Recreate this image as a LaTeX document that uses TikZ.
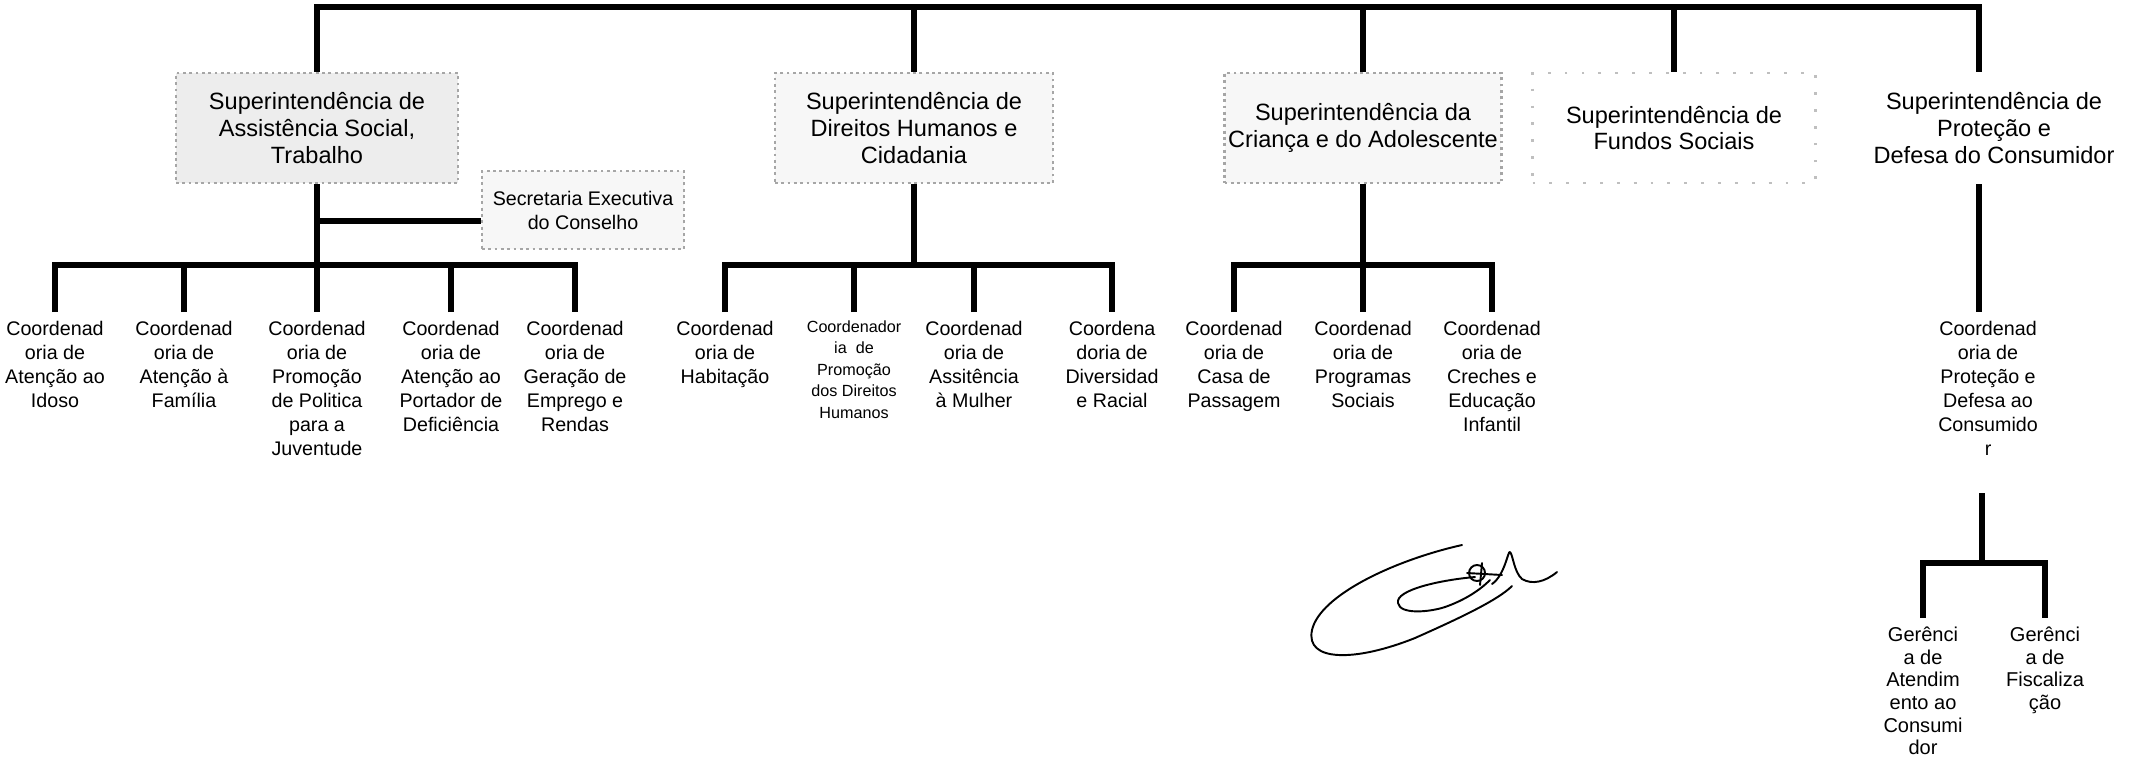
\documentclass[tikz,border=0pt]{standalone}
\usepackage{fontspec}
\setmainfont{Liberation Sans}
\usetikzlibrary{positioning}
\newcommand{\supfont}{\fontsize{6.7}{7.6}\selectfont}
\newcommand{\coordfont}{\fontsize{5.6}{6.85}\selectfont}
\newcommand{\tinyfont}{\fontsize{4.6}{6.1}\selectfont}
\newcommand{\gerfont}{\fontsize{5.7}{6.45}\selectfont}

\begin{document}
\begin{tikzpicture}[
    line cap=butt,
    line join=miter,
    bar/.style={line width=1.9pt},
    supbox/.style={draw=gray!70, densely dotted, line width=0.8pt, align=center,
        font=\supfont, minimum height=1.1cm, inner sep=1pt},
    unit/.style={align=center, anchor=north, font=\coordfont,
        inner xsep=0pt, inner ysep=2.3pt},
    signature/.style={line width=0.55pt, line cap=round, line join=round}
]

% --- Definitions ---
\def\topY{-0.07}  % top bus
\def\busY{-2.65}  % bus of the coordenadorias
\def\unitY{-3.12} % top of the coordenadorias

\useasboundingbox (0,0) rectangle (21.34,-7.59);

% --- Superintendencias ---
\node[supbox, fill=black!7, minimum width=2.82cm] (assist) at (3.17,-1.28)
    {Superintendência de\\Assistência Social,\\Trabalho};
\node[supbox, fill=black!3, minimum width=2.78cm] (direitos) at (9.14,-1.28)
    {Superintendência de\\Direitos Humanos e\\Cidadania};
\node[supbox, fill=black!3, minimum width=2.76cm] (crianca) at (13.63,-1.28)
    {Superintendência da\\Criança e do Adolescente};
\node[supbox, draw=gray!50, loosely dotted, minimum width=2.83cm] (fundos) at (16.74,-1.28)
    {Superintendência de\\Fundos Sociais};
\node[supbox, draw=none, minimum width=2.8cm] (consumidor) at (19.94,-1.28)
    {Superintendência de\\Proteção e\\Defesa do Consumidor};
\coordinate (cstem) at (19.79,-1.28);

% Top bus
\draw[bar] (assist.north) |- (cstem |- 0,\topY) -- (cstem |- consumidor.north);
\foreach \n in {direitos,crianca,fundos}
    \draw[bar] (\n.north) -- (\n.north |- 0,\topY);

% --- Assistencia Social ---
\node[supbox, fill=black!3, font=\coordfont, minimum width=2.02cm, minimum height=0.78cm]
    (secretaria) at (5.83,-2.10) {Secretaria Executiva\\do Conselho};

\node[unit] (a1) at (0.55,\unitY) {Coordenad\\oria de\\Atenção ao\\Idoso};
\node[unit] (a2) at (1.84,\unitY) {Coordenad\\oria de\\Atenção à\\Família};
\node[unit] (a3) at (3.17,\unitY) {Coordenad\\oria de\\Promoção\\de Politica\\para a\\Juventude};
\node[unit] (a4) at (4.51,\unitY) {Coordenad\\oria de\\Atenção ao\\Portador de\\Deficiência};
\node[unit] (a5) at (5.75,\unitY) {Coordenad\\oria de\\Geração de\\Emprego e\\Rendas};

\draw[bar] (assist.south) -- (a3.north);
\draw[bar] (assist.south |- 0,-2.21) -- (secretaria.west |- 0,-2.21);
\draw[bar] (a1.north) |- (a5.north |- 0,\busY) -- (a5.north);
\foreach \n in {a2,a4}
    \draw[bar] (\n.north) -- (\n.north |- 0,\busY);

% --- Direitos Humanos ---
\node[unit] (b1) at (7.25,\unitY) {Coordenad\\oria de\\Habitação};
\node[unit, font=\tinyfont] (b2) at (8.54,\unitY) {Coordenador\\ia \ de\\Promoção\\dos Direitos\\Humanos};
\node[unit] (b3) at (9.74,\unitY) {Coordenad\\oria de\\Assitência\\à Mulher};
\node[unit] (b4) at (11.12,\unitY) {Coordena\\doria de\\Diversidad\\e Racial};

\draw[bar] (direitos.south) -- (direitos.south |- 0,\busY);
\draw[bar] (b1.north) |- (b4.north |- 0,\busY) -- (b4.north);
\foreach \n in {b2,b3}
    \draw[bar] (\n.north) -- (\n.north |- 0,\busY);

% --- Crianca e Adolescente ---
\node[unit] (c1) at (12.34,\unitY) {Coordenad\\oria de\\Casa de\\Passagem};
\node[unit] (c2) at (13.63,\unitY) {Coordenad\\oria de\\Programas\\Sociais};
\node[unit] (c3) at (14.92,\unitY) {Coordenad\\oria de\\Creches e\\Educação\\Infantil};

\draw[bar] (crianca.south) -- (c2.north);
\draw[bar] (c1.north) |- (c3.north |- 0,\busY) -- (c3.north);

% --- Protecao e Defesa do Consumidor ---
\node[unit] (d1) at (19.88,\unitY) {Coordenad\\oria de\\Proteção e\\Defesa ao\\Consumido\\r};
\draw[bar] (cstem |- consumidor.south) -- (cstem |- d1.north);

\coordinate (dstem) at (19.82,-4.93);
\node[unit, font=\gerfont] (e1) at (19.23,-6.18) {Gerênci\\a de\\Atendim\\ento ao\\Consumi\\dor};
\node[unit, font=\gerfont] (e2) at (20.45,-6.18) {Gerênci\\a de\\Fiscaliza\\ção};

\draw[bar] (dstem) -- (dstem |- 0,-5.63);
\draw[bar] (e1.north) |- (e2.north |- 0,-5.63) -- (e2.north);

% --- Signature ---
\draw[signature] (14.62,-5.45) .. controls (13.95,-5.6) and (13.2,-5.95) .. (13.12,-6.3)
    .. controls (13.05,-6.62) and (13.55,-6.62) .. (14.15,-6.38)
    .. controls (14.6,-6.18) and (14.98,-6.0) .. (15.12,-5.86);
\draw[signature] (14.75,-5.77) .. controls (14.4,-5.8) and (13.95,-5.9) .. (13.98,-6.03)
    .. controls (14.0,-6.15) and (14.3,-6.12) .. (14.45,-6.07)
    .. controls (14.65,-6.0) and (14.8,-5.9) .. (14.9,-5.8);
\draw[signature] (14.77,-5.73) circle (0.08);
\draw[signature] (14.67,-5.73) -- (15.02,-5.75);
\draw[signature] (14.82,-5.63) -- (14.80,-5.85);
\draw[signature] (14.92,-5.84) .. controls (15.05,-5.75) and (15.08,-5.5) .. (15.10,-5.52)
    .. controls (15.13,-5.55) and (15.14,-5.72) .. (15.22,-5.79)
    .. controls (15.32,-5.85) and (15.45,-5.82) .. (15.57,-5.72);

\end{tikzpicture}
\end{document}
